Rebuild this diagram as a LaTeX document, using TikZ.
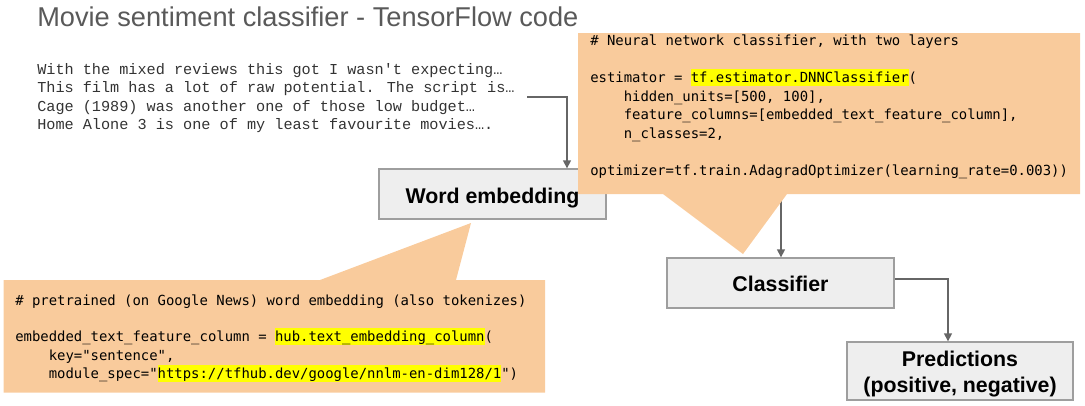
\documentclass[tikz,border=0pt]{standalone}
\usepackage{fontspec}
\setmainfont{Liberation Sans}
\setmonofont{DejaVu Sans Mono}
\newfontfamily\revfont{Liberation Mono}
\usetikzlibrary{arrows.meta}
\definecolor{callout}{HTML}{F9CB9C}
\definecolor{hly}{HTML}{FFFF00}
\definecolor{boxfill}{HTML}{EEEEEE}
\definecolor{boxline}{HTML}{9E9E9E}
\definecolor{arrowc}{HTML}{666666}
\definecolor{titlec}{HTML}{595959}
\definecolor{revc}{HTML}{333333}
\newcommand\hlt[1]{{\setlength\fboxsep{0pt}\colorbox{hly}{\rule[-2.9pt]{0pt}{13pt}#1}}}
\tikzset{
  flowbox/.style={draw=boxline, line width=1pt, fill=boxfill, inner sep=0pt,
    font=\fontsize{16pt}{19.5pt}\selectfont\bfseries, align=center},
  arr/.style={draw=arrowc, line width=1pt, -{Triangle[length=6pt,width=6pt]}},
  codeline/.style={anchor=base west, inner sep=0pt, font=\ttfamily\fontsize{10.44pt}{12pt}\selectfont},
  revline/.style={anchor=base west, inner sep=0pt, text=revc, font=\revfont\fontsize{11.4pt}{13pt}\selectfont},
  callfill/.style={fill=callout, draw=none}
}
\begin{document}
\begin{tikzpicture}[x=0.75pt,y=-0.75pt]
\useasboundingbox (0,0) rectangle (1085,405);

% title
\node[anchor=base west, inner sep=0pt, text=titlec, font=\fontsize{20.4pt}{24pt}\selectfont] (title) at (37,26) {Movie sentiment classifier - TensorFlow code};

% reviews
\node[revline] (r1) at (37,74.5) {With the mixed reviews this got I wasn't expecting…};
\node[revline] (r2) at (37,92.85) {This film has a lot of raw potential. The script is…};
\node[revline] (r3) at (37,111.2) {Cage (1989) was another one of those low budget…};
\node[revline] (r4) at (37,129.55) {Home Alone 3 is one of my least favourite movies….};

% boxes
\node[flowbox, minimum width=170.25pt, minimum height=37.5pt, text height=17.4pt, text depth=3.4pt] (we) at (492.5,194) {Word embedding};
\node[flowbox, minimum width=170.25pt, minimum height=37.5pt, text height=12pt, text depth=0pt] (cls) at (780.5,283) {Classifier};
\node[flowbox, minimum width=169.5pt, minimum height=43.5pt] (pred) at (960,371) {\rule{0pt}{16.5pt}Predictions\\(positive, negative)};

% connectors
\coordinate (rv) at (527,97);
\coordinate (rvbend) at (567,97);
\draw[arr] (rv) -- (rvbend) -- (rvbend |- we.north);
\coordinate (cin) at (781,190);
\draw[arr] (cin) -- (cin |- cls.north);
\draw[arr] ([yshift=3pt]cls.east) -| ([xshift=-9pt]pred.north);

% callouts
\path[callfill] (578,33) -- (1080,33) -- (1080,194) -- (787,194) -- (743,254) -- (663,194) -- (578,194) -- cycle;
\path[callfill] (3.5,280) -- (320,280) -- (471,223) -- (456,280) -- (545,280) -- (545,392.5) -- (3.5,392.5) -- cycle;

% code in top callout
\node[codeline] (t1) at (590,45) {\# Neural network classifier, with two layers};
\node[codeline] (t2) at (590,82.3) {estimator = \hlt{tf.estimator.DNNClassifier}(};
\node[codeline] (t3) at (623.5,101) {hidden\_units=[500, 100],};
\node[codeline] (t4) at (623.5,119.6) {feature\_columns=[embedded\_text\_feature\_column],};
\node[codeline] (t5) at (623.5,138.3) {n\_classes=2,};
\node[codeline] (t6) at (590,175.6) {optimizer=tf.train.AdagradOptimizer(learning\_rate=0.003))};

% code in bottom callout
\node[codeline] (b1) at (15,305) {\# pretrained (on Google News) word embedding (also tokenizes)};
\node[codeline] (b2) at (15,341.5) {embedded\_text\_feature\_column = \hlt{hub.text\_embedding\_column}(};
\node[codeline] (b3) at (48.5,360) {key="sentence",};
\node[codeline] (b4) at (48.5,378.5) {module\_spec="\hlt{https://tfhub.dev/google/nnlm-en-dim128/1}")};
\end{tikzpicture}
\end{document}
